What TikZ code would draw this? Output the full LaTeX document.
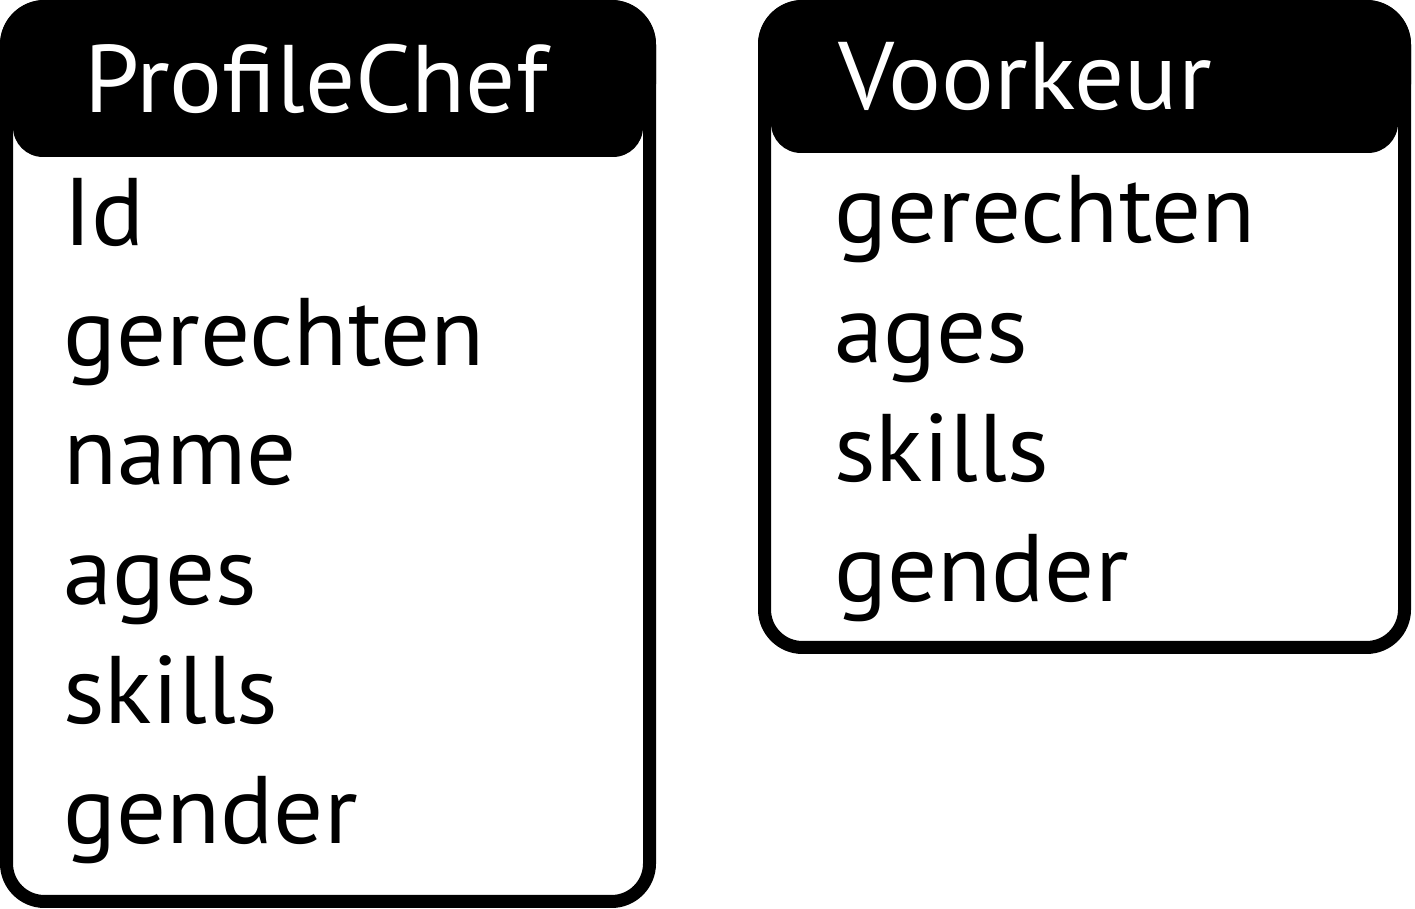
\documentclass[tikz,border=0pt]{standalone}
\usepackage{fontspec}
\setmainfont[FakeStretch=1.03]{PT Sans}

\begin{document}
\begin{tikzpicture}[x=1pt, y=1pt,
    every node/.style={font=\fontsize{96}{100}\selectfont, anchor=base west, inner sep=0pt},
    titel/.style={text=white},
    rand/.style={line width=13pt, rounded corners=38pt}]
    \useasboundingbox (0,0) rectangle (1415,909);

    % Kop ProfileChef
    \fill[rounded corners=45pt] (0,780) rectangle (656,909);
    \fill[rounded corners=30pt] (13,820) -- (13,752) -- (643,752) -- (643,820) -- cycle;
    % Rand ProfileChef
    \draw[rand] (6.5,902.5) rectangle (649.5,7.5);

    % Kop Voorkeur
    \fill[rounded corners=45pt] (758,780) rectangle (1411,909);
    \fill[rounded corners=30pt] (771,820) -- (771,756) -- (1398,756) -- (1398,820) -- cycle;
    % Rand Voorkeur
    \draw[rand] (764.5,902.5) rectangle (1404.5,261.5);

    \node[titel] (chef) at (84,796) {ProfileChef};
    \node[titel] (voorkeur) at (838,799) {Voorkeur};

    % Velden ProfileChef
    \foreach \veld [count=\i] in {Id, gerechten, name, ages, skills, gender}
        \node (chef-\i) at (63,{663-119.5*(\i-1)}) {\veld};

    % Velden Voorkeur
    \foreach \veld [count=\i] in {gerechten, ages, skills, gender}
        \node (voorkeur-\i) at (834,{666-119.5*(\i-1)}) {\veld};
\end{tikzpicture}
\end{document}
